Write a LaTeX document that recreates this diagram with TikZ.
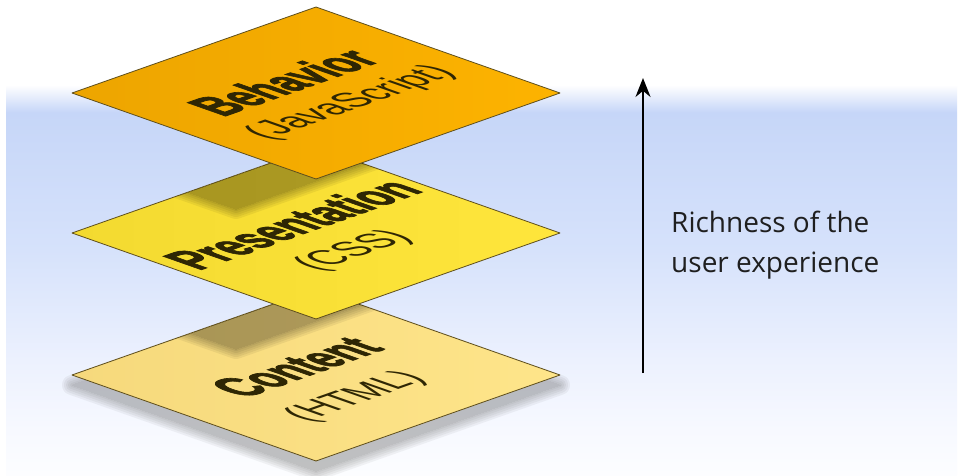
\documentclass[tikz,border=0pt]{standalone}
\usepackage{fontspec}
\setmainfont{Liberation Sans}
\newfontfamily\heavyfont[BoldFeatures={FakeBold=2.5}]{Liberation Sans}
\newfontfamily\sidefont{Open Sans}
\usetikzlibrary{arrows.meta}

\definecolor{bandA}{HTML}{C6D6F8}
\definecolor{bandB}{HTML}{D6E2FB}
\definecolor{bandC}{HTML}{ECF1FE}
\definecolor{bandD}{HTML}{F7F9FF}
\definecolor{bandE}{HTML}{FCFDFF}
\definecolor{behavL}{HTML}{EDA500}
\definecolor{behavR}{HTML}{FDB300}
\definecolor{presL}{HTML}{F3DA30}
\definecolor{presR}{HTML}{FFE63C}
\definecolor{contL}{HTML}{F6D97C}
\definecolor{contR}{HTML}{FEE58A}
\definecolor{rim}{HTML}{5E4E1C}
\definecolor{ink}{HTML}{2E2604}

\pgfdeclareverticalshading{skyband}{100bp}{color(0bp)=(bandE); color(25bp)=(bandE);
  color(30.8bp)=(bandD); color(39.7bp)=(bandC); color(53.8bp)=(bandB);
  color(71.5bp)=(bandA); color(75bp)=(white); color(100bp)=(white)}

% one layer, given by its centre
\newcommand{\platepath}[1]{(#1) ++(-244,0) -- ++(244,86) -- ++(244,-86) -- ++(-244,-86) -- cycle}

\begin{document}
\begin{tikzpicture}
[x=1pt, y=1pt,
plate/.style={draw=rim, line width=0.8pt, line join=round},
title/.style={inner sep=0pt, text=ink, font=\heavyfont\bfseries\fontsize{78}{78}\selectfont, cm={0.478,0.168,-0.707,0.249,(0,0)}},
subtitle/.style={inner sep=0pt, text=ink, font=\fontsize{60}{60}\selectfont, cm={0.59,0.208,-0.707,0.249,(0,0)}},
richness/.style={line width=2.2pt, -{Stealth[length=19pt, width=15pt]}},]
\useasboundingbox (0,0) rectangle (961,475);
\fill[white] (0,0) rectangle (961,475);
\shade[shading=skyband] (6,0) rectangle (957,390);

% bottom layer
\foreach \r in {0,2,...,10}{
  \begin{scope}[transparency group, opacity=0.08]
  \filldraw[black!60, line width={2*\r pt}, line join=round, shift={(0,-10)}] \platepath{316,100};
  \end{scope}}
\draw[plate, left color=contL, right color=contR] \platepath{316,100};
\begin{scope}
\clip \platepath{316,100};
\foreach \r in {0,2,...,10}{
  \begin{scope}[transparency group, opacity=0.06]
  \filldraw[black, line width={2*\r pt}, line join=round, shift={(-80,-30)}] \platepath{316,242};
  \end{scope}}
\end{scope}
\node[title] (cont) at (296,108) {Content};
\node[subtitle] (contsub) at (356,78) {(HTML)};

% middle layer
\draw[plate, left color=presL, right color=presR] \platepath{316,242};
\begin{scope}
\clip \platepath{316,242};
\foreach \r in {0,2,...,10}{
  \begin{scope}[transparency group, opacity=0.06]
  \filldraw[black, line width={2*\r pt}, line join=round, shift={(-80,-30)}] \platepath{316,382};
  \end{scope}}
\end{scope}
\node[title] (pres) at (292,251) {Presentation};
\node[subtitle] (pressub) at (354,224) {(CSS)};

% top layer
\draw[plate, left color=behavL, right color=behavR] \platepath{316,382};
\node[title] (behav) at (283,393) {Behavior};
\node[subtitle] (behavsub) at (351,372) {(JavaScript)};

% arrow and its text
\coordinate (low) at (643,102);
\coordinate (high) at (643,397);
\draw[richness] (low) -- (high);
\node[anchor=base west, inner sep=0pt, align=left, text=black!88, font=\sidefont\fontsize{28}{40}\selectfont] (rich) at (671,203) {Richness of the\\user experience};

\end{tikzpicture}
\end{document}
